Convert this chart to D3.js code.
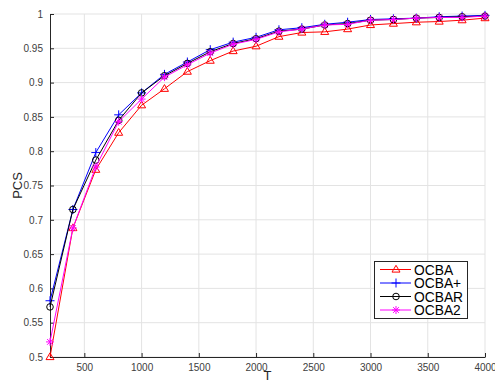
<!DOCTYPE html>
<html><head><meta charset="utf-8">
<script src="https://cdn.jsdelivr.net/npm/d3@7"></script>
<style>body{margin:0;background:#fff}svg{display:block;font-family:"Liberation Sans",Arial,sans-serif}</style>
</head><body><svg id="c" width="495" height="381"></svg>
<script>
const T = [200,400,600,800,1000,1200,1400,1600,1800,2000,2200,2400,2600,2800,3000,3200,3400,3600,3800,4000];
const ocba   = [0.500,0.688,0.773,0.827,0.867,0.891,0.916,0.932,0.946,0.953,0.967,0.973,0.974,0.978,0.984,0.986,0.988,0.989,0.991,0.994];
const ocbaP  = [0.582,0.715,0.798,0.853,0.885,0.912,0.930,0.948,0.959,0.966,0.977,0.980,0.985,0.988,0.992,0.993,0.994,0.996,0.997,0.998];
const ocbaR  = [0.573,0.715,0.787,0.845,0.885,0.910,0.928,0.945,0.957,0.964,0.975,0.978,0.984,0.986,0.991,0.992,0.994,0.995,0.996,0.997];
const ocba2  = [0.522,0.688,0.777,0.843,0.876,0.908,0.926,0.943,0.956,0.963,0.974,0.978,0.984,0.985,0.991,0.992,0.994,0.995,0.995,0.997];
const xTicks = [500,1000,1500,2000,2500,3000,3500,4000];
const yTicks = [0.5,0.55,0.6,0.65,0.7,0.75,0.8,0.85,0.9,0.95,1];
const seriesNames = ["OCBA","OCBA+","OCBAR","OCBA2"];
const seriesColors = ["#ff0000","#0000ff","#000000","#ff00ff"];
const seriesMarkers = ["triangle","plus","circle","asterisk"];
const seriesData = [ocba, ocbaP, ocbaR, ocba2];

const svg = d3.select("#c");
const L=50,R=485,Tp=14,B=357;
const x = d3.scaleLinear().domain([200,4000]).range([L,R]);
const y = d3.scaleLinear().domain([0.5,1]).range([B,Tp]);
const axisCol = "#262626";

// grid
const g = svg.append("g");
g.selectAll(".gx").data(xTicks).enter().append("line")
  .attr("x1",d=>x(d)).attr("x2",d=>x(d)).attr("y1",Tp).attr("y2",B)
  .attr("stroke","#e3e3e3").attr("stroke-width",1);
g.selectAll(".gy").data(yTicks).enter().append("line")
  .attr("x1",L).attr("x2",R).attr("y1",d=>y(d)).attr("y2",d=>y(d))
  .attr("stroke","#e3e3e3").attr("stroke-width",1);

// axes
const xAxis = d3.axisBottom(x).tickValues(xTicks).tickSizeInner(-4).tickSizeOuter(0).tickPadding(7).tickFormat(d3.format("d"));
const gx = svg.append("g").attr("transform",`translate(0,${B})`).call(xAxis);
const yAxis = d3.axisLeft(y).tickValues(yTicks).tickSizeInner(-4).tickSizeOuter(0).tickPadding(7).tickFormat(d=>String(+d.toFixed(2)));
const gy = svg.append("g").attr("transform",`translate(${L},0)`).call(yAxis);
[gx,gy].forEach(a=>{
  a.select(".domain").attr("stroke",axisCol).attr("stroke-width",1);
  a.selectAll(".tick line").attr("stroke",axisCol);
  a.selectAll(".tick text").attr("fill","#404040").attr("font-size",10).attr("font-family","Liberation Sans, Arial, sans-serif");
});

svg.append("text").attr("x",(L+R)/2).attr("y",379.5).attr("text-anchor","middle")
  .attr("font-size",13).attr("fill",axisCol).text("T");
svg.append("text").attr("transform",`translate(22,${(Tp+B)/2}) rotate(-90)`).attr("text-anchor","middle")
  .attr("font-size",13).attr("fill",axisCol).text("PCS");

function marker(sel, type, color){
  if(type==="triangle"){
    sel.append("path").attr("d","M0,-4.2L4,2.6L-4,2.6Z").attr("fill","none").attr("stroke",color).attr("stroke-width",1);
  } else if(type==="plus"){
    sel.append("path").attr("d","M-4.5,0H4.5M0,-4.5V4.5").attr("stroke",color).attr("stroke-width",1);
  } else if(type==="circle"){
    sel.append("circle").attr("r",3.3).attr("fill","none").attr("stroke",color).attr("stroke-width",1);
  } else {
    sel.append("path").attr("d","M-4,0H4M0,-4V4M-2.9,-2.9L2.9,2.9M-2.9,2.9L2.9,-2.9").attr("stroke",color).attr("stroke-width",1);
  }
}

const line = d3.line().x((d,i)=>x(T[i])).y(d=>y(d));
seriesData.forEach((s,k)=>{
  svg.append("path").datum(s).attr("d",line).attr("fill","none").attr("stroke",seriesColors[k]).attr("stroke-width",1);
  s.forEach((v,i)=>{
    const m = svg.append("g").attr("transform",`translate(${x(T[i])},${y(v)})`);
    marker(m, seriesMarkers[k], seriesColors[k]);
  });
});

// legend
const lg = svg.append("g");
lg.append("rect").attr("x",374.5).attr("y",261.5).attr("width",93).attr("height",57)
  .attr("fill","#fff").attr("stroke",axisCol).attr("stroke-width",1);
seriesNames.forEach((n,k)=>{
  const yy = 269.5 + k*13.5;
  lg.append("line").attr("x1",380).attr("x2",411).attr("y1",yy).attr("y2",yy).attr("stroke",seriesColors[k]);
  marker(lg.append("g").attr("transform",`translate(396,${yy})`), seriesMarkers[k], seriesColors[k]);
  lg.append("text").attr("x",414).attr("y",yy+5).attr("font-size",13.8).attr("fill","#000").text(n);
});
</script></body></html>
